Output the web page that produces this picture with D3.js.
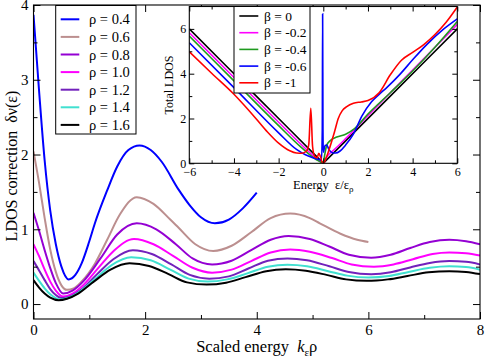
<!DOCTYPE html>
<html>
<head>
<meta charset="utf-8">
<script src="https://cdn.jsdelivr.net/npm/d3@7"></script>
<style>
  html,body{margin:0;padding:0;background:#fff;}
  svg{display:block;}
  svg text{white-space:pre;font-family:"Liberation Serif","Times New Roman",serif;}
  .tick line{stroke:#000;}
  .domain{display:none;}
</style>
</head>
<body>
<div id="chart"></div>
<script>
// ---- main panel data: LDOS correction vs scaled energy k_eps*rho ----
const rhoLabels = ['ρ = 0.4','ρ = 0.6','ρ = 0.8','ρ = 1.0','ρ = 1.2','ρ = 1.4','ρ = 1.6'];
const rhoColors = ['#0000ff','#bc8f8f','#9400d3','#ff00ff','#7221bc','#40e0d0','#000000'];

const rho04 = [[0,3.87],[0.1,2.85],[0.2,1.92],[0.3,1.25],[0.4,0.8],[0.5,0.5],[0.63,0.33],[0.75,0.39],[0.86,0.54],[1.0,0.84],[1.1,1.08],[1.32,1.52],[1.5,1.84],[1.7,2.06],[1.9,2.12],[2.1,2.06],[2.3,1.9],[2.6,1.53],[2.8,1.32],[3.0,1.16],[3.25,1.08],[3.5,1.13],[3.75,1.28],[4.0,1.49]];
const rho06 = [[0,2.04],[0.1,1.62],[0.2,1.15],[0.3,0.73],[0.4,0.43],[0.5,0.25],[0.6,0.19],[0.72,0.21],[0.86,0.3],[1.1,0.54],[1.32,0.86],[1.55,1.2],[1.85,1.43],[2.15,1.34],[2.45,1.13],[2.6,1.02],[2.9,0.8],[3.22,0.71],[3.55,0.78],[3.9,0.96],[4.25,1.15],[4.6,1.21],[4.95,1.15],[5.13,1.08],[5.5,0.94],[5.8,0.86],[6.0,0.83]];
const rho08 = [[0,1.22],[0.1,0.98],[0.2,0.72],[0.3,0.48],[0.4,0.28],[0.53,0.14],[0.7,0.18],[0.9,0.31],[1.2,0.61],[1.5,0.93],[1.85,1.08],[2.2,1.0],[2.55,0.8],[2.85,0.61],[3.2,0.53],[3.55,0.58],[3.9,0.72],[4.25,0.86],[4.57,0.91],[4.95,0.87],[5.3,0.77],[5.65,0.66],[6.05,0.62],[6.4,0.66],[6.75,0.75],[7.1,0.83],[7.45,0.86],[7.75,0.84],[8,0.8]];
const rho10 = [[0,0.8],[0.1,0.64],[0.2,0.46],[0.3,0.3],[0.4,0.18],[0.53,0.1],[0.7,0.14],[0.9,0.26],[1.17,0.49],[1.45,0.72],[1.8,0.87],[2.15,0.8],[2.5,0.645],[2.85,0.485],[3.2,0.42],[3.55,0.46],[3.9,0.575],[4.25,0.69],[4.6,0.73],[4.95,0.7],[5.35,0.615],[5.7,0.53],[6.1,0.5],[6.45,0.53],[6.8,0.6],[7.15,0.67],[7.45,0.69],[7.75,0.68],[8,0.65]];
const rho12 = [[0,0.575],[0.1,0.45],[0.2,0.32],[0.3,0.2],[0.4,0.12],[0.5,0.08],[0.65,0.1],[0.85,0.19],[1.14,0.4],[1.43,0.6],[1.78,0.72],[2.12,0.67],[2.47,0.53],[2.8,0.39],[3.15,0.34],[3.5,0.37],[3.85,0.475],[4.2,0.58],[4.55,0.61],[4.9,0.585],[5.3,0.505],[5.65,0.43],[6.05,0.4],[6.4,0.425],[6.75,0.49],[7.1,0.55],[7.45,0.575],[7.75,0.565],[8,0.53]];
const rho14 = [[0,0.42],[0.1,0.31],[0.2,0.21],[0.3,0.13],[0.4,0.08],[0.47,0.06],[0.62,0.08],[0.82,0.16],[1.11,0.34],[1.4,0.52],[1.75,0.625],[2.1,0.585],[2.45,0.46],[2.78,0.34],[3.12,0.3],[3.47,0.33],[3.83,0.41],[4.2,0.5],[4.55,0.525],[4.9,0.505],[5.28,0.44],[5.62,0.38],[6.0,0.355],[6.37,0.375],[6.72,0.43],[7.1,0.485],[7.45,0.505],[7.75,0.495],[8,0.46]];
const rho16 = [[0,0.32],[0.1,0.22],[0.2,0.14],[0.3,0.085],[0.45,0.05],[0.6,0.07],[0.8,0.14],[1.08,0.3],[1.38,0.46],[1.72,0.545],[2.07,0.51],[2.42,0.4],[2.75,0.29],[3.1,0.26],[3.45,0.285],[3.8,0.36],[4.17,0.44],[4.52,0.465],[4.88,0.445],[5.25,0.39],[5.6,0.33],[5.97,0.31],[6.35,0.33],[6.7,0.375],[7.08,0.425],[7.45,0.44],[7.75,0.43],[8,0.4]];
const rhoSeries = [rho04,rho06,rho08,rho10,rho12,rho14,rho16];

const mainXTicks = [0,2,4,6,8], mainXMinor = [1,3,5,7];
const mainYTicks = [0,1,2,3,4], mainYMinor = [0.5,1.5,2.5,3.5];

// ---- inset data: total LDOS vs energy eps/eps_rho ----
const betaLabels = ['β = 0','β = -0.2','β = -0.4','β = -0.6','β = -1'];
const betaColors = ['#000000','#ff00ff','#1f9a1f','#0000ff','#ff0000'];

const beta0  = [[-6,6],[-3,3],[-0.05,0.05],[0,0],[0.05,0.05],[3,3],[6,6]];
const beta02 = [[-6,5.83],[-4,3.83],[-2,1.83],[-1,0.85],[-0.5,0.38],[-0.25,0.15],[-0.1,0.05],[0,0.02],[0.1,0.2],[0.25,0.4],[0.5,0.62],[1,1.1],[2,2.13],[3,3.15],[4,4.16],[5,5.18],[6,6.2]];
const beta04 = [[-6,5.68],[-4,3.68],[-2,1.68],[-1,0.72],[-0.6,0.38],[-0.3,0.15],[-0.1,0.05],[0,0.02],[0.05,0.3],[0.15,0.8],[0.3,1.0],[0.6,1.17],[1.0,1.3],[1.4,1.55],[2,2.2],[3,3.15],[4,4.12],[5,5.18],[6,6.33]];
const beta06 = [[-6,5.38],[-4,3.38],[-2,1.36],[-1.2,0.62],[-0.8,0.38],[-0.5,0.26],[-0.2,0.17],[-0.08,0.15],[-0.045,1.5],[-0.03,6.67],[-0.015,1.5],[0,0.5],[0.08,0.8],[0.15,0.82],[0.25,0.62],[0.4,0.47],[0.55,0.46],[0.75,0.55],[1.0,0.82],[1.34,1.29],[1.72,2.1],[2.16,2.75],[2.5,3.08],[2.84,3.38],[3.43,3.97],[4,4.62],[4.63,5.3],[5.37,5.98],[6,6.45]];
const beta10 = [[-6,4.98],[-5,4.02],[-4,3.08],[-3,1.98],[-2.5,1.4],[-2,0.9],[-1.5,0.56],[-1.2,0.46],[-0.95,0.45],[-0.75,0.55],[-0.65,0.85],[-0.56,2.46],[-0.48,0.75],[-0.38,0.3],[-0.28,0.25],[-0.2,0.45],[-0.13,0.3],[-0.05,0.05],[0,0],[0.15,0.3],[0.3,0.74],[0.5,1.4],[0.67,2.0],[0.85,2.35],[1.05,2.53],[1.35,2.68],[1.7,2.74],[2.0,2.8],[2.5,3.15],[3.0,3.95],[3.5,4.6],[4.0,4.95],[4.5,5.3],[5.0,5.75],[5.5,6.3],[6.0,6.98]];
const betaSeries = [beta0,beta02,beta04,beta06,beta10];

const insXTicks = [-6,-4,-2,0,2,4,6], insXMinor = [-5,-3,-1,1,3,5];
const insYTicks = [0,2,4,6], insYMinor = [1,3,5];

const W=485, H=359;
const SERIF = '"Liberation Serif","Times New Roman",serif';
const svg = d3.select('#chart').append('svg').attr('width',W).attr('height',H);
svg.append('rect').attr('width',W).attr('height',H).attr('fill','#fff');

// draws inward ticks on all four sides, labels on bottom/left only
function frame(g, x, y, o){
  const [x0,x1]=x.range(), [y0,y1]=y.range();
  const fmt=d3.format('d');
  const ax=(gen,tr)=>g.append('g').attr('transform',tr).call(gen)
    .attr('font-family',SERIF).attr('font-size',o.fs)
    .call(s=>s.selectAll('text').attr('fill','#000').attr('font-family',SERIF));
  ax(d3.axisBottom(x).tickValues(o.xt).tickFormat(fmt).tickSizeInner(-o.maj).tickSizeOuter(0).tickPadding(o.padX),`translate(0,${y0})`);
  ax(d3.axisBottom(x).tickValues(o.xm).tickSize(-o.min).tickFormat(''),`translate(0,${y0})`);
  ax(d3.axisTop(x).tickValues(o.xt).tickSize(-o.maj).tickFormat(''),`translate(0,${y1})`);
  ax(d3.axisTop(x).tickValues(o.xm).tickSize(-o.min).tickFormat(''),`translate(0,${y1})`);
  ax(d3.axisLeft(y).tickValues(o.yt).tickFormat(fmt).tickSizeInner(-o.maj).tickSizeOuter(0).tickPadding(o.padY),`translate(${x0},0)`);
  ax(d3.axisLeft(y).tickValues(o.ym).tickSize(-o.min).tickFormat(''),`translate(${x0},0)`);
  ax(d3.axisRight(y).tickValues(o.yt).tickSize(-o.maj).tickFormat(''),`translate(${x1},0)`);
  ax(d3.axisRight(y).tickValues(o.ym).tickSize(-o.min).tickFormat(''),`translate(${x1},0)`);
  g.append('rect').attr('x',x0).attr('y',y1).attr('width',x1-x0).attr('height',y0-y1)
    .attr('fill','none').attr('stroke','#000').attr('stroke-width',1.1);
}

// ---------- main panel ----------
const x = d3.scaleLinear().domain([0,8]).range([33.5,480]);
const y = d3.scaleLinear().domain([-0.2,4]).range([319,5]);
const main = svg.append('g');
main.append('clipPath').attr('id','clipMain').append('rect')
  .attr('x',33.5).attr('y',5).attr('width',446.5).attr('height',314);
const line = d3.line().x(d=>x(d[0])).y(d=>y(d[1])).curve(d3.curveMonotoneX);
main.append('g').attr('clip-path','url(#clipMain)')
  .selectAll('path').data(rhoSeries).join('path')
  .attr('d',line).attr('fill','none')
  .attr('stroke',(d,i)=>rhoColors[i]).attr('stroke-width',2);
frame(main,x,y,{xt:mainXTicks,xm:mainXMinor,yt:mainYTicks,ym:mainYMinor,maj:7,min:4,fs:15,padX:5.5,padY:5});

main.append('text').attr('transform',`translate(${x(4)},352)`).attr('text-anchor','middle')
  .attr('font-size',16.5)
  .call(t=>{
    t.append('tspan').text('Scaled energy  ');
    t.append('tspan').attr('font-style','italic').text('k');
    t.append('tspan').attr('font-size',11).attr('dy',4).text('ε');
    t.append('tspan').attr('dy',-4).text('ρ');
  });
main.append('text').attr('transform','translate(16.5,166) rotate(-90)').attr('text-anchor','middle')
  .attr('font-size',16).text('LDOS correction  δν(ε)');

// legend
const leg = main.append('g');
leg.append('rect').attr('x',55.7).attr('y',5.5).attr('width',80.3).attr('height',128.5)
  .attr('fill','#fff').attr('stroke','#000').attr('stroke-width',1);
rhoLabels.forEach((lab,i)=>{
  const ly = 19.3 + i*17.6;
  leg.append('line').attr('x1',60.7).attr('x2',79.3).attr('y1',ly).attr('y2',ly)
    .attr('stroke',rhoColors[i]).attr('stroke-width',2);
  leg.append('text').attr('x',89).attr('y',ly+5).attr('font-size',14.5).text(lab);
});

// ---------- inset ----------
const ix = d3.scaleLinear().domain([-6,6]).range([189.3,457.3]);
const iy = d3.scaleLinear().domain([0,7]).range([163.3,6.5]);
const ins = svg.append('g');
ins.append('rect').attr('x',189.3).attr('y',6.5).attr('width',268).attr('height',156.8).attr('fill','#fff');
ins.append('clipPath').attr('id','clipIns').append('rect')
  .attr('x',189.3).attr('y',6.5).attr('width',268).attr('height',156.8);
const iline = d3.line().x(d=>ix(d[0])).y(d=>iy(d[1])).curve(d3.curveMonotoneX);
ins.append('g').attr('clip-path','url(#clipIns)')
  .selectAll('path').data(betaSeries).join('path')
  .attr('d',iline).attr('fill','none')
  .attr('stroke',(d,i)=>betaColors[i]).attr('stroke-width',1.6);
frame(ins,ix,iy,{xt:insXTicks,xm:insXMinor,yt:insYTicks,ym:insYMinor,maj:5,min:3,fs:12,padX:4.5,padY:3});

ins.append('text').attr('transform',`translate(${ix(0)},189)`).attr('text-anchor','middle')
  .attr('font-size',12.5)
  .call(t=>{
    t.append('tspan').text('Energy  ε/ε');
    t.append('tspan').attr('font-size',9).attr('dy',3).text('ρ');
  });
ins.append('text').attr('transform','translate(173,85) rotate(-90)').attr('text-anchor','middle')
  .attr('font-size',12).text('Total LDOS');

const ileg = ins.append('g');
ileg.append('rect').attr('x',234).attr('y',6.5).attr('width',76).attr('height',86.5)
  .attr('fill','#fff').attr('stroke','#000').attr('stroke-width',1);
betaLabels.forEach((lab,i)=>{
  const ly = 16 + i*16.7;
  ileg.append('line').attr('x1',239.3).attr('x2',258.3).attr('y1',ly).attr('y2',ly)
    .attr('stroke',betaColors[i]).attr('stroke-width',1.6);
  ileg.append('text').attr('x',264).attr('y',ly+4.6).attr('font-size',13.5).text(lab);
});
</script>
</body>
</html>
